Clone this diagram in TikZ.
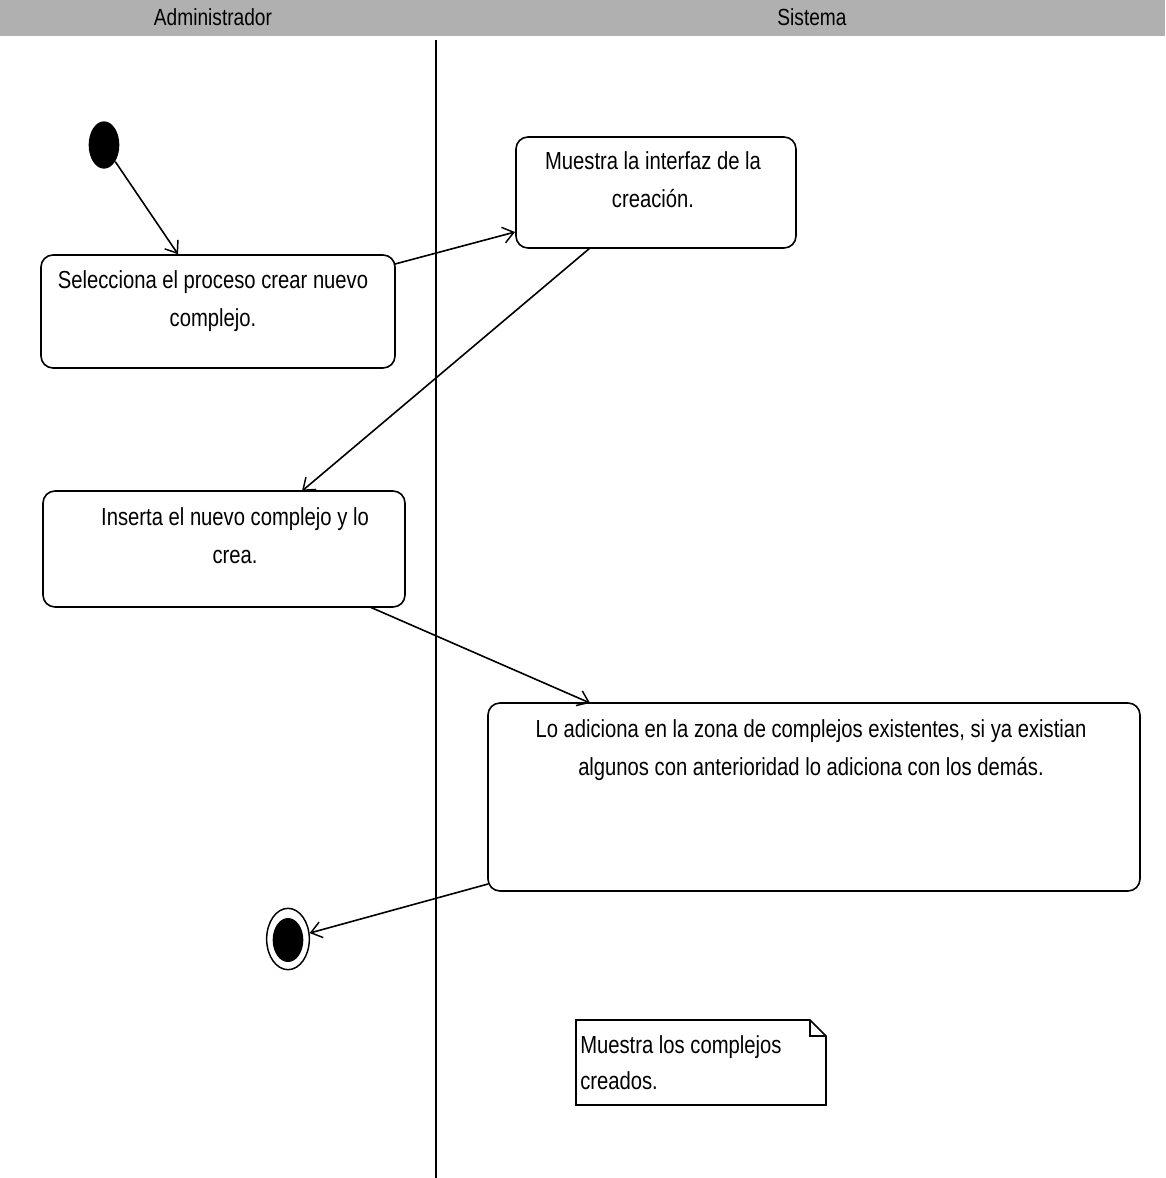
\documentclass[tikz,border=0pt]{standalone}
\usepackage{fontspec}
\setmainfont{Liberation Sans}[FakeStretch=0.82]
\usetikzlibrary{arrows.meta,shapes.geometric,fit}
\definecolor{headgray}{RGB}{176,176,176}
\begin{document}
\begin{tikzpicture}[x=0.75pt,y=-0.75pt,
  act/.style={draw, line width=1.2pt, rounded corners=9pt, inner sep=0pt},
  acttext/.style={anchor=north, align=center, font=\fontsize{18.5}{28.5}\selectfont, inner sep=0pt},
  flow/.style={draw, line width=1.2pt, -{Straight Barb[length=8pt,width=12pt,line width=1.1pt]}},
  lanehead/.style={font=\fontsize{17.5}{20}\selectfont}]
\useasboundingbox (0,0) rectangle (1165,1178);
\fill[white] (0,0) rectangle (1165,1178);

% swimlane header and divider
\fill[headgray] (0,0) rectangle (1165,36);
\node[lanehead] (hadm) at (213,17) {Administrador};
\node[lanehead] (hsys) at (812,17) {Sistema};
\draw[line width=1pt] (436,40) -- (436,1178);

% initial state
\node[ellipse, fill=black, minimum width=23pt, minimum height=35.5pt, inner sep=0pt] (start) at (104,145) {};

% activities
\node[act, fit={(41,255) (395,368)}] (a1) {};
\node[acttext] (t1) at (213,270) {Selecciona el proceso crear nuevo\\complejo.};

\node[act, fit={(516,137) (796,248)}] (a2) {};
\node[acttext] (t2) at (653,151) {Muestra la interfaz de la\\creación.};

\node[act, fit={(43,491) (405,607)}] (a3) {};
\node[acttext] (t3) at (235,507) {Inserta el nuevo complejo y lo\\crea.};

\node[act, fit={(488,703) (1140,891)}] (a4) {};
\node[acttext] (t4) at (811,719) {Lo adiciona en la zona de complejos existentes, si ya existian\\algunos con anterioridad lo adiciona con los demás.};

% final state
\node[ellipse, draw, line width=1.1pt, minimum width=32pt, minimum height=46pt, inner sep=0pt] (final) at (288,939) {};
\node[ellipse, fill=black, minimum width=23pt, minimum height=33pt, inner sep=0pt] (finalin) at (288,940) {};

% note with folded corner
\draw[line width=1.2pt] (576,1020) -- (810,1020) -- (826,1036) -- (826,1105) -- (576,1105) -- cycle;
\draw[line width=0.9pt] (810,1020) -- (810,1036) -- (826,1036);
\node[anchor=north west, align=left, inner sep=0pt, font=\fontsize{18.5}{27}\selectfont] (note) at (580,1035) {Muestra los complejos\\creados.};

% control flows
\draw[flow] (start) -- (a1.north -| 178,0);
\draw[flow] (395,264) -- (515,232);
\draw[flow] (590,248) -- (302,491);
\draw[flow] (370,607) -- (590,703);
\draw[flow] (488,884) -- (final);
\end{tikzpicture}
\end{document}
